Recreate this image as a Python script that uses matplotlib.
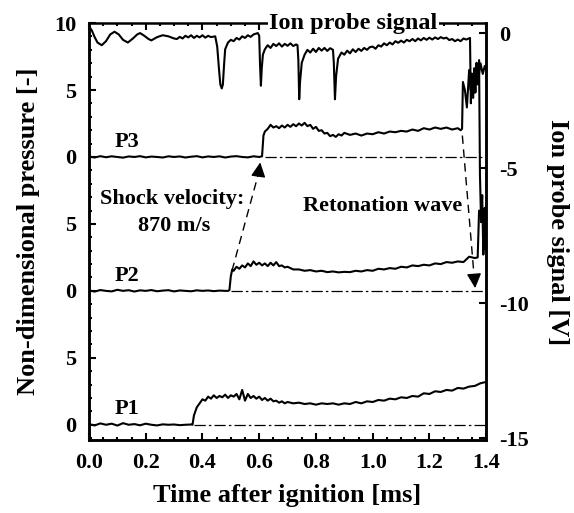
import matplotlib
matplotlib.use('Agg')
import matplotlib.pyplot as plt
from matplotlib.ticker import MultipleLocator, FixedLocator, FormatStrFormatter
import numpy as np

plt.rcParams['font.family'] = ['Liberation Serif', 'DejaVu Serif']
plt.rcParams['font.weight'] = 'bold'
plt.rcParams['axes.labelweight'] = 'bold'
plt.rcParams['axes.unicode_minus'] = False

# pressure traces (non-dimensional), each stacked with its own offset
t_p1 = [0.00, 0.02, 0.04, 0.06, 0.08, 0.10, 0.12, 0.14, 0.16, 0.18, 0.20, 0.22, 0.24, 0.26,
        0.28, 0.30, 0.32, 0.34, 0.36, 0.365, 0.37, 0.38, 0.39, 0.40, 0.41, 0.42, 0.43, 0.44,
        0.45, 0.46, 0.47, 0.48, 0.49, 0.50, 0.51, 0.52, 0.53, 0.54, 0.55, 0.56, 0.57, 0.58,
        0.59, 0.60, 0.61, 0.62, 0.63, 0.64, 0.65, 0.66, 0.67, 0.68, 0.69, 0.70, 0.72, 0.74,
        0.76, 0.78, 0.80, 0.82, 0.84, 0.86, 0.88, 0.90, 0.92, 0.94, 0.96, 0.98, 1.00, 1.02,
        1.04, 1.06, 1.08, 1.10, 1.12, 1.14, 1.16, 1.18, 1.20, 1.22, 1.24, 1.26, 1.28, 1.30,
        1.32, 1.34, 1.36, 1.38, 1.40]
p1 = [0.05, -0.05, 0.10, 0.00, 0.08, -0.06, 0.12, 0.00, 0.05, -0.04, 0.08, 0.00, -0.05, 0.03,
      0.00, 0.02, -0.03, 0.00, 0.02, 0.00, 0.70, 1.30, 1.60, 1.90, 1.80, 2.10, 1.95, 2.20,
      2.00, 2.15, 2.05, 2.25, 2.00, 2.20, 2.10, 2.30, 1.90, 2.60, 1.80, 2.30, 2.00, 2.15,
      1.95, 2.10, 1.85, 2.00, 1.80, 1.95, 1.75, 1.80, 1.65, 1.75, 1.60, 1.70, 1.60, 1.65,
      1.55, 1.60, 1.50, 1.60, 1.55, 1.60, 1.50, 1.60, 1.55, 1.70, 1.60, 1.75, 1.70, 1.85,
      1.80, 1.95, 1.90, 2.05, 2.00, 2.15, 2.10, 2.35, 2.30, 2.50, 2.45, 2.60, 2.55, 2.75,
      2.70, 2.85, 2.90, 3.10, 3.20]

t_p2 = [0.00, 0.02, 0.04, 0.06, 0.08, 0.10, 0.12, 0.14, 0.16, 0.18, 0.20, 0.22, 0.24, 0.26,
        0.28, 0.30, 0.32, 0.34, 0.36, 0.38, 0.40, 0.42, 0.44, 0.46, 0.48, 0.49, 0.495, 0.50,
        0.505, 0.51, 0.52, 0.53, 0.54, 0.55, 0.56, 0.57, 0.58, 0.59, 0.60, 0.61, 0.62, 0.63,
        0.64, 0.65, 0.66, 0.67, 0.68, 0.69, 0.70, 0.72, 0.74, 0.76, 0.78, 0.80, 0.82, 0.84,
        0.86, 0.88, 0.90, 0.92, 0.94, 0.96, 0.98, 1.00, 1.02, 1.04, 1.06, 1.08, 1.10, 1.12,
        1.14, 1.16, 1.18, 1.20, 1.22, 1.24, 1.26, 1.28, 1.30, 1.32, 1.34, 1.36, 1.37, 1.375,
        1.385, 1.395, 1.40]
p2 = [0.03, -0.05, 0.06, 0.00, -0.04, 0.08, 0.00, 0.05, -0.05, 0.04, 0.00, 0.06, -0.03, 0.02,
      0.05, -0.04, 0.03, 0.00, -0.03, 0.04, 0.00, 0.03, -0.02, 0.02, 0.00, 0.00, 0.05, 1.10,
      1.60, 1.50, 1.80, 1.65, 1.90, 1.75, 2.05, 1.85, 2.20, 1.95, 2.10, 1.90, 2.05, 1.85,
      2.10, 1.90, 2.15, 1.85, 1.90, 1.75, 1.80, 1.60, 1.60, 1.50, 1.55, 1.45, 1.50, 1.40,
      1.45, 1.38, 1.42, 1.40, 1.50, 1.45, 1.55, 1.50, 1.65, 1.60, 1.70, 1.65, 1.80, 1.75,
      1.90, 1.85, 1.95, 1.90, 2.05, 2.00, 2.15, 2.10, 2.20, 2.15, 2.55, 2.45, 2.50, 6.00,
      5.60, 6.20, 5.90]

t_p3 = [0.00, 0.02, 0.04, 0.06, 0.08, 0.10, 0.12, 0.14, 0.16, 0.18, 0.20, 0.22, 0.24, 0.26,
        0.28, 0.30, 0.32, 0.34, 0.36, 0.38, 0.40, 0.42, 0.44, 0.46, 0.48, 0.50, 0.52, 0.54,
        0.56, 0.58, 0.60, 0.61, 0.615, 0.62, 0.63, 0.64, 0.65, 0.66, 0.67, 0.68, 0.69, 0.70,
        0.71, 0.72, 0.73, 0.74, 0.75, 0.76, 0.77, 0.78, 0.79, 0.80, 0.81, 0.82, 0.83, 0.84,
        0.85, 0.86, 0.87, 0.88, 0.89, 0.90, 0.92, 0.94, 0.96, 0.98, 1.00, 1.02, 1.04, 1.06,
        1.08, 1.10, 1.12, 1.14, 1.16, 1.18, 1.20, 1.22, 1.24, 1.26, 1.28, 1.30, 1.31, 1.315,
        1.318, 1.325, 1.332, 1.34, 1.345, 1.352, 1.358, 1.365, 1.372, 1.38, 1.388, 1.395, 1.40]
p3 = [0.04, -0.04, 0.06, -0.02, 0.05, 0.00, -0.05, 0.04, 0.00, 0.06, -0.03, 0.03, 0.00, -0.04,
      0.05, 0.00, 0.04, -0.04, 0.02, 0.06, -0.03, 0.04, 0.00, 0.05, -0.04, 0.03, 0.06, 0.00,
      -0.03, 0.05, 0.00, 0.05, 1.60, 1.90, 2.10, 2.40, 2.20, 2.30, 2.15, 2.35, 2.20, 2.40,
      2.25, 2.45, 2.30, 2.50, 2.35, 2.55, 2.30, 2.40, 2.10, 2.25, 1.95, 2.00, 1.75, 1.80,
      1.55, 1.65, 1.50, 1.70, 1.60, 1.80, 1.65, 1.75, 1.60, 1.75, 1.70, 1.85, 1.75, 1.90,
      1.85, 1.95, 1.90, 2.05, 1.95, 2.15, 2.05, 2.20, 2.10, 2.20, 2.05, 2.15, 2.00, 2.10,
      5.60, 5.00, 3.70, 6.50, 5.00, 6.20, 4.80, 6.90, 5.80, 7.00, 6.20, 6.80, 6.50]

# ion probe signal [V]
t_ion = [0.00, 0.01, 0.02, 0.03, 0.045, 0.06, 0.075, 0.09, 0.105, 0.12, 0.137, 0.155, 0.17,
         0.18, 0.195, 0.21, 0.22, 0.24, 0.26, 0.28, 0.30, 0.31, 0.32, 0.33, 0.34, 0.35, 0.36,
         0.37, 0.38, 0.39, 0.40, 0.41, 0.42, 0.43, 0.445, 0.452, 0.458, 0.463, 0.468, 0.472,
         0.476, 0.48, 0.49, 0.50, 0.51, 0.52, 0.53, 0.54, 0.55, 0.56, 0.57, 0.58, 0.595, 0.600,
         0.603, 0.606, 0.609, 0.613, 0.62, 0.63, 0.64, 0.65, 0.66, 0.67, 0.68, 0.69, 0.70,
         0.71, 0.72, 0.73, 0.735, 0.738, 0.741, 0.744, 0.75, 0.76, 0.77, 0.78, 0.79, 0.80,
         0.81, 0.82, 0.83, 0.84, 0.85, 0.86, 0.863, 0.867, 0.871, 0.878, 0.89, 0.90, 0.91,
         0.92, 0.93, 0.94, 0.95, 0.96, 0.97, 0.98, 0.99, 1.00, 1.01, 1.02, 1.03, 1.04, 1.05,
         1.06, 1.07, 1.08, 1.09, 1.10, 1.11, 1.12, 1.13, 1.14, 1.15, 1.16, 1.17, 1.18, 1.19,
         1.20, 1.21, 1.22, 1.23, 1.24, 1.25, 1.26, 1.27, 1.28, 1.29, 1.30, 1.31, 1.32, 1.33,
         1.343, 1.346, 1.35, 1.354, 1.358, 1.362, 1.366, 1.37, 1.375, 1.378, 1.382, 1.386,
         1.39, 1.394, 1.398]
ion = [0.25, 0.10, -0.15, -0.35, -0.45, -0.30, -0.05, 0.05, -0.05, -0.25, -0.35, -0.20, -0.05,
       0.00, -0.10, -0.22, -0.27, -0.15, -0.08, -0.12, -0.20, -0.22, -0.14, -0.20, -0.10, -0.16,
       -0.08, -0.18, -0.10, -0.16, -0.08, -0.17, -0.10, -0.15, -0.12, -0.50, -1.30, -1.90,
       -2.05, -1.90, -1.20, -0.60, -0.35, -0.25, -0.30, -0.18, -0.24, -0.12, -0.18, -0.08,
       -0.14, -0.05, 0.00, -0.10, -1.20, -1.95, -1.30, -0.80, -0.60, -0.45, -0.55, -0.40,
       -0.48, -0.38, -0.50, -0.40, -0.47, -0.38, -0.48, -0.42, -0.45, -1.00, -2.45, -1.80,
       -1.10, -0.80, -0.62, -0.72, -0.58, -0.70, -0.55, -0.65, -0.55, -0.66, -0.56, -0.62,
       -1.10, -2.45, -1.60, -0.95, -0.72, -0.80, -0.65, -0.75, -0.60, -0.70, -0.58, -0.66,
       -0.55, -0.62, -0.52, -0.50, -0.58, -0.45, -0.50, -0.38, -0.45, -0.35, -0.42, -0.30,
       -0.36, -0.28, -0.35, -0.25, -0.30, -0.22, -0.30, -0.20, -0.27, -0.18, -0.25, -0.17,
       -0.24, -0.16, -0.22, -0.15, -0.20, -0.17, -0.26, -0.22, -0.30, -0.24, -0.30, -0.20,
       -0.24, -0.18, -2.60, -1.50, -2.40, -1.30, -2.20, -1.10, -1.90, -1.00, -5.20, -7.00,
       -6.00, -8.20, -6.50, -8.00]

offsets = [0, 10, 20]
onsets = [0.37, 0.50, 0.62]
names = ['P1', 'P2', 'P3']
left_ticks = [0, 5, 10, 15, 20, 25, 30]
left_labels = ['0', '5', '0', '5', '0', '5', '10']
right_ticks = [0, -5, -10, -15]

fig = plt.figure(figsize=(5.74, 5.13), dpi=100)
ax = fig.add_axes([0.155, 0.142, 0.692, 0.813])

traces = [(t_p1, p1), (t_p2, p2), (t_p3, p3)]
for (tt, pp), off, t0, nm in zip(traces, offsets, onsets, names):
    ax.plot(tt, np.array(pp) + off, color='k', lw=1.5)
    ax.plot([t0, 1.4], [off, off], color='k', lw=0.9, ls=(0, (9, 2.5, 2, 2.5)))
    ax.text(0.135, off + 0.4, nm, fontsize=16, ha='center', va='bottom')

# shock and retonation arrows
ax.plot([0.504, 0.598], [11.5, 18.8], color='k', lw=1, ls=(0, (6, 4)))
ax.annotate('', xy=(0.605, 19.8), xytext=(0.597, 18.6),
            arrowprops=dict(arrowstyle='-|>', color='k', mutation_scale=22, lw=1))
ax.plot([1.316, 1.357], [21.6, 11.2], color='k', lw=1, ls=(0, (6, 4)))
ax.annotate('', xy=(1.362, 10.0), xytext=(1.357, 11.3),
            arrowprops=dict(arrowstyle='-|>', color='k', mutation_scale=22, lw=1))

ax.text(0.038, 16.5, 'Shock velocity:', fontsize=16, ha='left', va='baseline')
ax.text(0.30, 14.5, '870 m/s', fontsize=16, ha='center', va='baseline')
ax.text(1.316, 16.0, 'Retonation wave', fontsize=16, ha='right', va='baseline')

ax2 = ax.twinx()
ax2.plot(t_ion, ion, color='k', lw=1.5)
ax2.set_ylim(-15.07, 0.37)
ax2.yaxis.set_major_locator(FixedLocator(right_ticks))
ax2.tick_params(direction='in', length=5, width=1.5, labelsize=16, pad=9)
ax2.spines['top'].set_visible(False)
for s in ax2.spines.values():
    s.set_linewidth(1.8)
ax2.set_ylabel('Ion probe signal [V]', fontsize=19, rotation=-90, labelpad=29)
ax2.text(0.665, 1.0, 'Ion probe signal', transform=ax2.transAxes, fontsize=17.5,
         ha='center', va='center', clip_on=False,
         bbox=dict(facecolor='white', edgecolor='none', pad=1))

ax.set_xlim(0, 1.4)
ax.set_ylim(-1.15, 30)
ax.xaxis.set_major_locator(MultipleLocator(0.2))
ax.xaxis.set_minor_locator(MultipleLocator(0.05))
ax.xaxis.set_major_formatter(FormatStrFormatter('%.1f'))
ax.yaxis.set_major_locator(FixedLocator(left_ticks))
ax.set_yticklabels(left_labels)
ax.yaxis.set_minor_locator(MultipleLocator(1))
ax.tick_params(which='both', direction='in', top=True, right=False, width=1.5, labelsize=16)
ax.tick_params(which='major', length=5, pad=9)
ax.tick_params(which='minor', length=2.5)
for s in ax.spines.values():
    s.set_linewidth(1.8)
ax.set_xlabel('Time after ignition [ms]', fontsize=19, labelpad=8)
ax.set_ylabel('Non-dimensional pressure [-]', fontsize=19, labelpad=10)

fig.savefig('out.png', dpi=100)
